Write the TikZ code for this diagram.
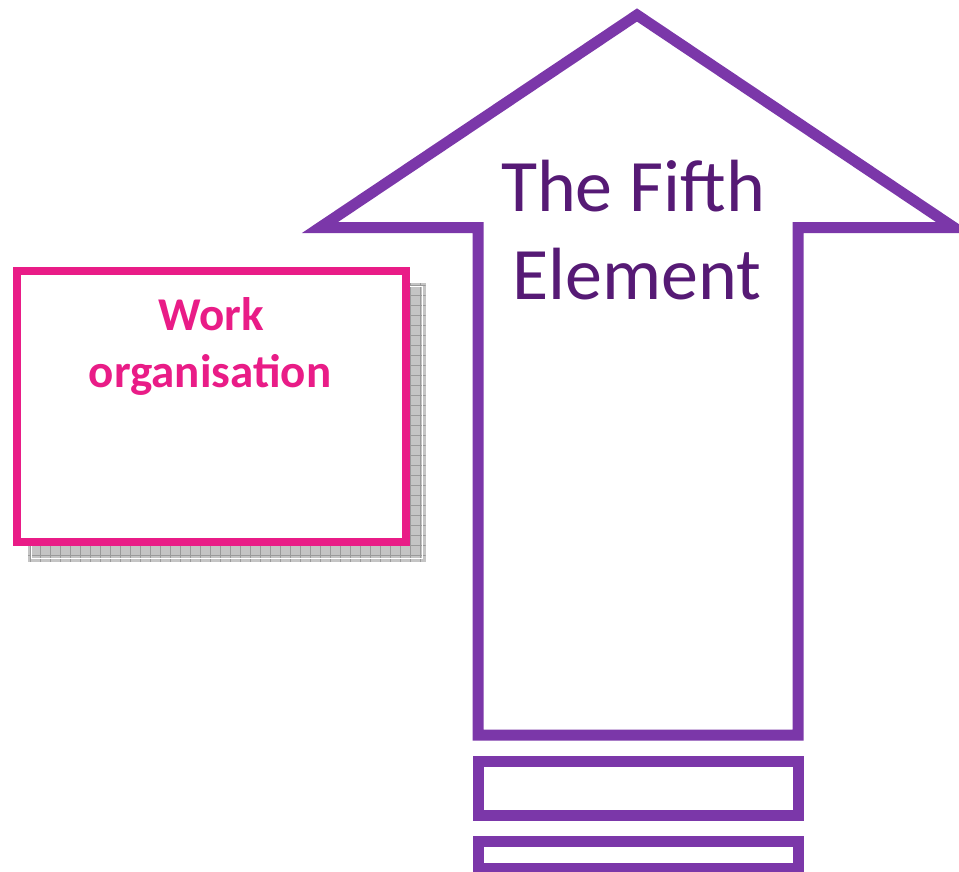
\documentclass[tikz,border=0pt]{standalone}
\usepackage{fontspec}
\setmainfont{Carlito}
\definecolor{arrowpurple}{HTML}{7B37A9}
\definecolor{textpurple}{HTML}{561A75}
\definecolor{boxpink}{HTML}{E91C87}
\definecolor{shadowgray}{HTML}{C4C4C4}
\definecolor{gridgray}{HTML}{9A9A9A}
\begin{document}
\begin{tikzpicture}[x=1pt,y=-1pt,
  arrowline/.style={draw=arrowpurple,line width=11pt,miter limit=20,fill=white},
  pinkbox/.style={draw=boxpink,line width=8pt,fill=white},
  pinktext/.style={text=boxpink,font=\fontsize{47}{57}\selectfont\bfseries,inner sep=0pt,anchor=base},
  purpletext/.style={text=textpurple,font=\fontsize{74}{88}\selectfont,inner sep=0pt,anchor=base}]
\useasboundingbox (0,0) rectangle (959,871);
% shadow of the box
\fill[shadowgray] (28,283) rectangle (425.7,561.7);
\begin{scope}
\clip (28,283) rectangle (425.7,561.7);
\foreach \x in {30,40,...,420} \draw[gridgray,line width=0.6pt] (\x,283) -- (\x,561.7);
\foreach \y in {285,295,...,560} \draw[gridgray,line width=0.6pt] (28,\y) -- (425.7,\y);
\end{scope}
\draw[white,line width=1pt] (31,286) rectangle (422.7,558.7);
% box
\draw[pinkbox] (16.7,271) rectangle (405.5,541.5);
\node[pinktext] (work1) at (211,330) {Work};
\node[pinktext] (work2) at (210,387) {organisation};
% arrow
\draw[arrowline] (478,735) -- (478,227.5) -- (320,227.5) -- (637,15) -- (954,227.5) -- (798,227.5) -- (798,735) -- cycle;
\draw[arrowline] (478,761.5) rectangle (798,815);
\draw[arrowline] (478,841.5) rectangle (798,868);
\node[purpletext] (fifth1) at (633,211.7) {The Fifth};
\node[purpletext] (fifth2) at (636.7,299.3) {Element};
\end{tikzpicture}
\end{document}
